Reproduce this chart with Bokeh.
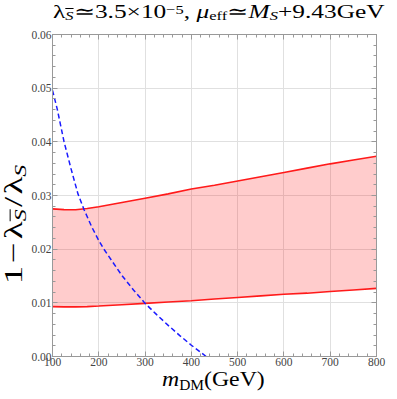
from bokeh.plotting import figure
from bokeh.models import LinearAxis, FixedTicker, PrintfTickFormatter, Range1d, Div
from bokeh.layouts import column, row
from bokeh.embed import file_html
from bokeh.resources import INLINE

# ---- data ----
m_band = [100, 125, 150, 175, 200, 250, 300, 350, 400, 450, 500, 550, 600, 650, 700, 750, 800]
band_upper = [0.0275, 0.02737, 0.02735, 0.02757, 0.0279, 0.0287, 0.0295, 0.0303, 0.0312,
              0.0319, 0.0327, 0.0335, 0.0343, 0.0351, 0.0359, 0.0366, 0.0373]
band_lower = [0.0093, 0.00925, 0.00925, 0.0093, 0.0094, 0.00965, 0.0099, 0.01015, 0.0104,
              0.0107, 0.0110, 0.0113, 0.0116, 0.0118, 0.0121, 0.0124, 0.0127]

m_blue = [100, 110, 125, 140, 155, 168, 185, 200, 211, 230, 250, 275, 300, 325, 350, 375, 400, 420, 432]
blue_curve = [0.0496, 0.0462, 0.0400, 0.0350, 0.0303, 0.0274, 0.0241, 0.0216, 0.0200, 0.0176,
              0.0151, 0.0124, 0.0099, 0.0078, 0.0058, 0.0039, 0.0021, 0.0008, 0.0]

x_major = [100, 200, 300, 400, 500, 600, 700, 800]
x_minor = list(range(100, 801, 20))
y_major = [0.0, 0.01, 0.02, 0.03, 0.04, 0.05, 0.06]
y_minor = [i * 0.002 for i in range(0, 31)]

# ---- layout sizes ----
TOTAL_W = 397
T_H = 26          # title strip
L_W = 28          # y-label strip
FIG_W, FIG_H = TOTAL_W - L_W, 344
B_H = 399 - T_H - FIG_H

p = figure(width=FIG_W, height=FIG_H, x_range=Range1d(100, 800), y_range=Range1d(0, 0.06),
           output_backend="svg", toolbar_location=None,
           min_border_left=24, min_border_right=21, min_border_top=8, min_border_bottom=14,
           margin=0)
p.outline_line_color = "#999999"
p.background_fill_color = "white"
p.border_fill_color = None

AX = "#999999"
TXT = "#444444"

def style_axis(ax, labels=True):
    ax.axis_line_color = AX
    ax.major_tick_line_color = AX
    ax.minor_tick_line_color = AX
    ax.major_tick_in = 5
    ax.major_tick_out = 0
    ax.minor_tick_in = 3
    ax.minor_tick_out = 0
    ax.major_label_text_font = "Liberation Serif"
    ax.major_label_text_color = TXT
    if labels:
        ax.major_label_text_font_size = "11.5px"
        ax.major_label_standoff = 1
    else:
        ax.major_label_text_font_size = "1px"
        ax.major_label_standoff = 0
        ax.formatter = PrintfTickFormatter(format="")

p.xaxis.ticker = FixedTicker(ticks=x_major, minor_ticks=x_minor)
p.yaxis.ticker = FixedTicker(ticks=y_major, minor_ticks=y_minor)
p.yaxis.formatter = PrintfTickFormatter(format="%.2f")
style_axis(p.xaxis[0])
style_axis(p.yaxis[0])

top = LinearAxis(ticker=FixedTicker(ticks=x_major, minor_ticks=x_minor))
right = LinearAxis(ticker=FixedTicker(ticks=y_major, minor_ticks=y_minor))
style_axis(top, labels=False)
style_axis(right, labels=False)
p.add_layout(top, "above")
p.add_layout(right, "right")

p.xgrid.ticker = FixedTicker(ticks=x_major)
p.ygrid.ticker = FixedTicker(ticks=y_major)
p.xgrid.grid_line_color = "#e0e0e0"
p.ygrid.grid_line_color = "#e0e0e0"

# ---- marks ----
p.varea(x=m_band, y1=band_lower, y2=band_upper, fill_color="red", fill_alpha=0.2)
p.line(m_band, band_upper, line_color="#ff1a1a", line_width=1.6)
p.line(m_band, band_lower, line_color="#ff1a1a", line_width=1.6)
p.line(m_blue, blue_curve, line_color="#1a1aff", line_width=1.5, line_dash="5 3")

# ---- texts as HTML (real text, with sub/superscripts) ----
FONT = "font-family:'Liberation Serif','Times New Roman',serif;color:black;white-space:nowrap;"

def sub(t, drop=0.18):
    return f'<span style="font-size:0.65em;position:relative;top:{drop}em">{t}</span>'

def sup(t):
    return f'<span style="font-size:0.65em;position:relative;top:-0.34em">{t}</span>'

def bar(t):
    return f'<span style="text-decoration:overline;text-decoration-thickness:1px">{t}</span>'

def op(t, gap=0.1):
    return f'<span style="margin:0 {gap}em">{t}</span>'

title_html = ("λ" + sub(bar("<i>S</i>")) + "≃3.5×10" + sup("−5") + ", <i>μ</i>" + sub("eff")
              + "≃<i>M</i>" + sub("<i>S</i>") + "+9.43GeV")
xlab_html = "<i>m</i>" + sub("DM", 0.3) + "(GeV)"
ylab_html = "1" + op("−", 0.08) + "λ" + sub(bar("<i>S</i>"), 0.25) + op("/", 0.06) + "λ" + sub("<i>S</i>", 0.25)

title_div = Div(width=TOTAL_W, height=T_H, margin=0, text=(
    f'<div style="{FONT}font-size:19px;line-height:19px;padding-left:53px;padding-top:2px;">'
    f'<span style="display:inline-block;transform:scaleX(1.335);transform-origin:0 0;">{title_html}</span></div>'))

ylab_div = Div(width=L_W, height=FIG_H, margin=0, text=(
    f'<div style="{FONT}width:{L_W}px;height:{FIG_H}px;display:flex;align-items:center;justify-content:center;">'
    f'<span style="display:inline-block;font-size:26px;line-height:26px;margin-top:52px;margin-left:2px;'
    f'transform:rotate(-90deg) scaleX(1.42);">{ylab_html}</span></div>'))

xlab_div = Div(width=TOTAL_W, height=B_H, margin=0, text=(
    f'<div style="{FONT}font-size:22px;line-height:22px;padding-left:162px;position:relative;top:-2px;">'
    f'<span style="display:inline-block;transform:scaleX(1.08);transform-origin:0 0;">{xlab_html}</span></div>'))

layout = column(title_div, row(ylab_div, p, spacing=0), xlab_div, spacing=0)

open("out.html", "w").write(file_html(layout, INLINE))
